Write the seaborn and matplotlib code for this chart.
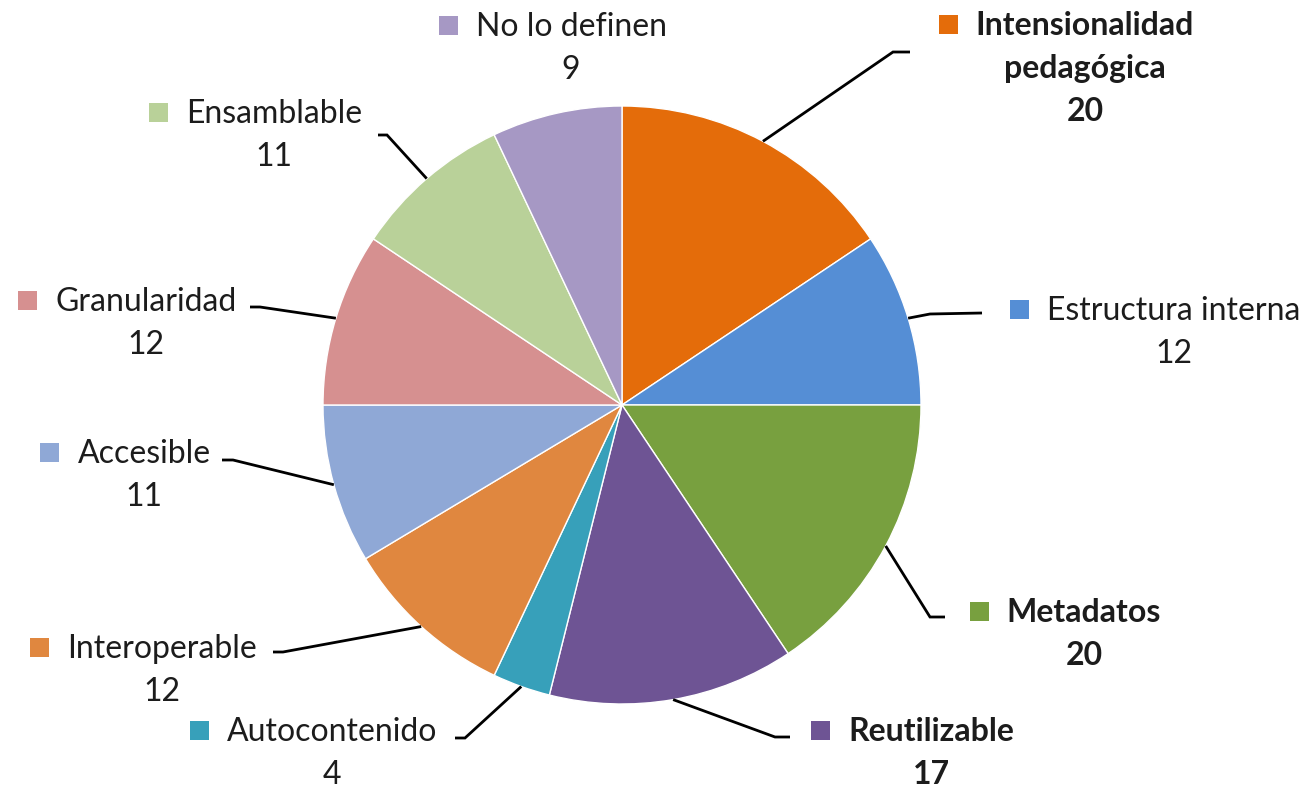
import numpy as np
import matplotlib
matplotlib.use("Agg")
import matplotlib.pyplot as plt
from matplotlib.patches import Rectangle
import seaborn as sns

# Characteristics of learning objects and how many definitions mention each
categories = [
    "Intensionalidad\npedagógica", "Estructura interna", "Metadatos", "Reutilizable",
    "Autocontenido", "Interoperable", "Accesible", "Granularidad",
    "Ensamblable", "No lo definen",
]
counts = [20, 12, 20, 17, 4, 12, 11, 12, 11, 9]
colors = [
    "#E46C0A", "#558ED5", "#78A03F", "#6E5494", "#37A0BA",
    "#E0873F", "#8FA8D6", "#D69090", "#B9D199", "#A698C4",
]
bold = [True, False, True, True, False, False, False, False, False, False]

# Layout in pixel units (origin top-left): label text centre x, first baseline y,
# leader-line elbow and end points (None = no leader)
W, H = 1314, 789
label_pos = [
    (1085, 35), (1174, 320), (1084, 622), (931, 741), (332, 741),
    (162, 658), (144, 463), (146, 311), (274, 123), (571, 36),
]
leaders = [
    ((893, 52), (910, 52)),
    ((930, 314), (982, 313)),
    ((930, 617), (945, 617)),
    ((775, 737), (790, 737)),
    ((465, 738), (455, 738)),
    ((283, 652), (273, 652)),
    ((233, 460), (222, 460)),
    ((260, 307), (250, 307)),
    ((387, 135), (378, 135)),
    None,
]
center_px = (622, 405)
radius_px = 299
line_gap = 43
text_color = "#1c1c1c"

sns.set_theme(style="white")
plt.rcParams["font.family"] = ["Lato", "DejaVu Sans"]


def fy(y):
    return H - y


fig = plt.figure(figsize=(W / 100, H / 100), dpi=100)
ax = fig.add_axes([0, 0, 1, 1])
palette = sns.color_palette(colors)
wedges, _ = ax.pie(
    counts, colors=palette, startangle=90, counterclock=False,
    center=(center_px[0], fy(center_px[1])), radius=radius_px,
    wedgeprops=dict(edgecolor="white", linewidth=1.0),
)
ax.set_xlim(0, W)
ax.set_ylim(0, H)
ax.set_aspect("equal")
ax.axis("off")

renderer = fig.canvas.get_renderer()
fs = 23

for i, (name, val) in enumerate(zip(categories, counts)):
    cx, by = label_pos[i]
    weight = "bold" if bold[i] else "normal"
    lines = name.split("\n") + [str(val)]
    first = None
    for k, ln in enumerate(lines):
        t = ax.text(cx, fy(by + k * line_gap), ln, ha="center", va="baseline",
                    fontsize=fs, fontweight=weight, color=text_color)
        if k == 0:
            first = t
    # legend key square left of the first line
    bb = first.get_window_extent(renderer=renderer)
    sq = 19
    ax.add_patch(Rectangle((bb.x0 - 18 - sq, fy(by) + 1), sq, sq,
                           facecolor=palette[i], edgecolor="none"))

    if leaders[i] is not None:
        w = wedges[i]
        mid = np.deg2rad((w.theta1 + w.theta2) / 2)
        sx = center_px[0] + radius_px * np.cos(mid)
        sy = fy(center_px[1]) + radius_px * np.sin(mid)
        (ex, ey), (tx, ty) = leaders[i]
        ax.plot([sx, ex, tx], [sy, fy(ey), fy(ty)], color="black", lw=2.0,
                solid_capstyle="butt", solid_joinstyle="miter")

fig.savefig("out.png", dpi=100, facecolor="white")
